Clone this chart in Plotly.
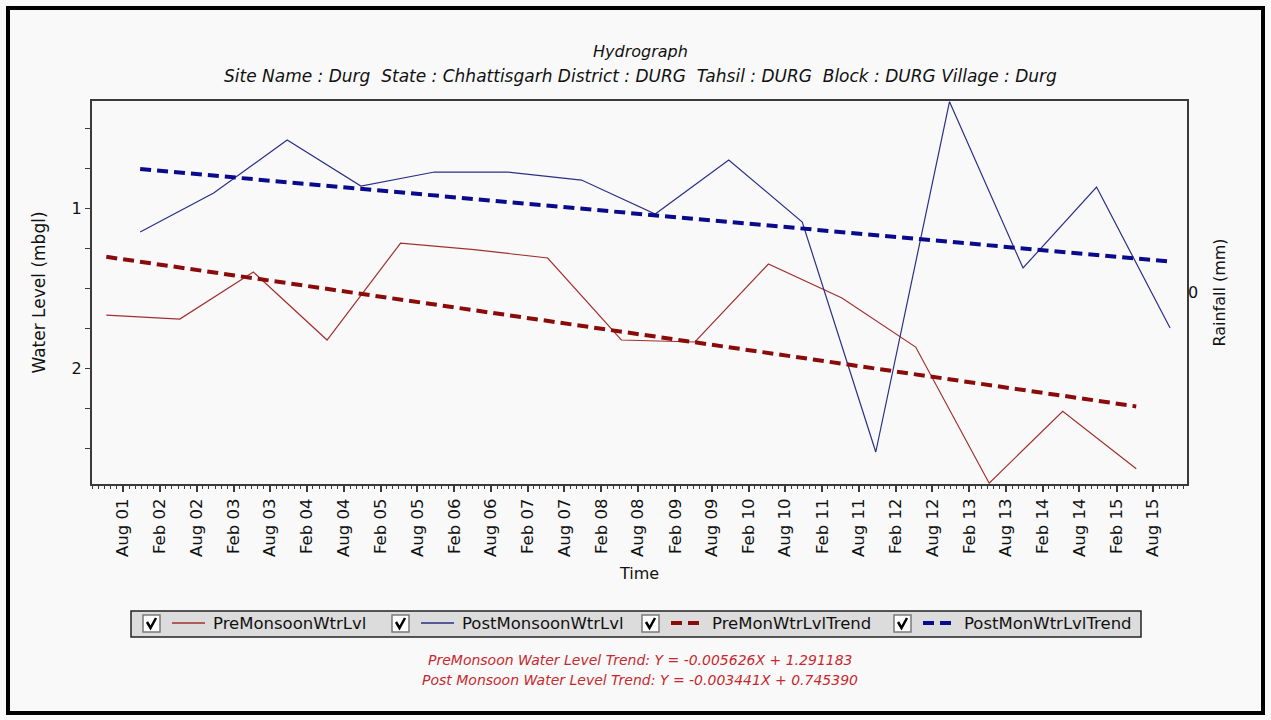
import plotly.graph_objects as go

# ---------------- data ----------------
pre_dates = ["2001-05-10", "2002-05-10", "2003-05-10", "2004-05-10", "2005-05-10",
             "2006-05-10", "2007-05-10", "2008-05-10", "2009-05-10", "2010-05-10",
             "2011-05-10", "2012-05-10", "2013-05-10", "2014-05-10", "2015-05-10"]
pre_level = [1.669, 1.694, 1.40, 1.825, 1.219, 1.26, 1.3125, 1.825, 1.8375, 1.35,
             1.5625, 1.869, 2.72, 2.27, 2.63]

post_dates = ["2001-10-25", "2002-10-25", "2003-10-25", "2004-10-25", "2005-10-25",
              "2006-10-25", "2007-10-25", "2008-10-25", "2009-10-25", "2010-10-25",
              "2011-10-25", "2012-10-25", "2013-10-25", "2014-10-25", "2015-10-25"]
post_level = [1.15, 0.906, 0.575, 0.8625, 0.775, 0.775, 0.825, 1.0375, 0.70, 1.0875,
              2.525, 0.335, 1.375, 0.869, 1.75]

pre_trend_dates = ["2001-05-10", "2015-05-10"]
pre_trend_level = [1.305, 2.24]
post_trend_dates = ["2001-10-25", "2015-10-25"]
post_trend_level = [0.756, 1.335]

series_names = ["PreMonsoonWtrLvl", "PostMonsoonWtrLvl", "PreMonWtrLvlTrend", "PostMonWtrLvlTrend"]
title_text = "Hydrograph"
site_text = ("Site Name : Durg\u00a0 State : Chhattisgarh District : DURG\u00a0 Tahsil : DURG"
             "\u00a0 Block : DURG Village : Durg")
eq_texts = ["PreMonsoon Water Level Trend: Y = -0.005626X + 1.291183",
            "Post Monsoon Water Level Trend: Y = -0.003441X + 0.745390"]

# ---------------- styles ----------------
C_PRE = "#a0302f"
C_POST = "#2a2f86"
C_PRE_T = "#8b0a0a"
C_POST_T = "#0a0a8c"
BG = "#f9f9f9"
AX = "#3a3a3a"
FONT = "DejaVu Sans"
TXT = "#111"

W_FIG, H_FIG = 1271, 720
L, R, T, B = 92, 1187, 101, 484
PW, PH = R - L, B - T


def px(x):
    return (x - L) / PW


def py(y):
    return (B - y) / PH


fig = go.Figure()
fig.add_trace(go.Scatter(x=pre_dates, y=pre_level, mode="lines", name=series_names[0],
                         line=dict(color=C_PRE, width=1.2), showlegend=False))
fig.add_trace(go.Scatter(x=post_dates, y=post_level, mode="lines", name=series_names[1],
                         line=dict(color=C_POST, width=1.2), showlegend=False))
fig.add_trace(go.Scatter(x=pre_trend_dates, y=pre_trend_level, mode="lines", name=series_names[2],
                         line=dict(color=C_PRE_T, width=4, dash="11px,6px"), showlegend=False))
fig.add_trace(go.Scatter(x=post_trend_dates, y=post_trend_level, mode="lines", name=series_names[3],
                         line=dict(color=C_POST_T, width=4, dash="11px,6px"), showlegend=False))
# invisible trace to activate the right (rainfall) axis
fig.add_trace(go.Scatter(x=[pre_dates[0]], y=[0], yaxis="y2", mode="markers",
                         marker=dict(opacity=0), showlegend=False, hoverinfo="skip"))

shapes = []
annotations = []

# outer frame
shapes.append(dict(type="rect", xref="paper", yref="paper",
                   x0=px(8), x1=px(1263), y0=py(8), y1=py(713),
                   line=dict(color="black", width=4), fillcolor="rgba(0,0,0,0)", layer="below"))

# titles
annotations.append(dict(text=title_text, xref="paper", yref="paper", x=px(640), y=py(52),
                        showarrow=False, xanchor="center", yanchor="middle",
                        font=dict(family=FONT, size=16, color=TXT, style="italic")))
annotations.append(dict(text=site_text, xref="paper", yref="paper", x=px(640), y=py(76),
                        showarrow=False, xanchor="center", yanchor="middle",
                        font=dict(family=FONT, size=17, color=TXT, style="italic")))

# legend box (manual, drawn like the reference with checkboxes)
shapes.append(dict(type="rect", xref="paper", yref="paper",
                   x0=px(131), x1=px(1141), y0=py(611), y1=py(637),
                   line=dict(color="#222", width=1.5), fillcolor="#dcdcdc"))
item_x = [143, 392, 642, 894]
sample_styles = [dict(color=C_PRE, width=1.5), dict(color=C_POST, width=1.5),
                 dict(color=C_PRE_T, width=4, dash="11px,6px"),
                 dict(color=C_POST_T, width=4, dash="11px,6px")]
for i, x0 in enumerate(item_x):
    # checkbox
    shapes.append(dict(type="rect", xref="paper", yref="paper",
                       x0=px(x0), x1=px(x0 + 17), y0=py(615), y1=py(632),
                       line=dict(color="#7a7a7a", width=1.5), fillcolor="white"))
    # check mark
    shapes.append(dict(type="path", xref="paper", yref="paper",
                       path=f"M {px(x0 + 4)} {py(622)} L {px(x0 + 7.5)} {py(628)} L {px(x0 + 13)} {py(618)}",
                       line=dict(color="black", width=2.5)))
    # line sample
    shapes.append(dict(type="line", xref="paper", yref="paper",
                       x0=px(x0 + 29), x1=px(x0 + 62), y0=py(623), y1=py(623),
                       line=sample_styles[i]))
    annotations.append(dict(text=series_names[i], xref="paper", yref="paper",
                            x=px(x0 + 68), y=py(623), showarrow=False,
                            xanchor="left", yanchor="middle",
                            font=dict(family=FONT, size=16.5, color=TXT)))

# trend equations
for j, t in enumerate(eq_texts):
    annotations.append(dict(text=t, xref="paper", yref="paper", x=px(640), y=py(660 + 20 * j),
                            showarrow=False, xanchor="center", yanchor="middle",
                            font=dict(family=FONT, size=14, color="#c8282d", style="italic")))

fig.update_layout(
    width=W_FIG, height=H_FIG,
    margin=dict(l=L, r=W_FIG - R, t=T, b=H_FIG - B, pad=0),
    paper_bgcolor=BG, plot_bgcolor=BG,
    font=dict(family=FONT, size=15, color=TXT),
    showlegend=False,
    shapes=shapes, annotations=annotations,
    xaxis=dict(
        type="date", range=["2001-02-28", "2016-01-17"],
        tick0="2001-08-01", dtick="M6", tickformat="%b %y", tickangle=-90,
        ticks="outside", ticklen=6, tickcolor=AX, tickwidth=1.5,
        minor=dict(dtick="M1", ticks="outside", ticklen=3, tickcolor=AX, tickwidth=1),
        showline=True, linecolor=AX, linewidth=2, mirror=True,
        showgrid=False, zeroline=False,
        tickfont=dict(family=FONT, size=16.5, color=TXT),
        title=dict(text="Time", font=dict(family=FONT, size=16, color=TXT), standoff=12),
    ),
    yaxis=dict(
        range=[2.725, 0.331],
        tickvals=[1, 2], ticktext=["1", "2"],
        ticks="outside", ticklen=5, tickcolor=AX, tickwidth=1,
        minor=dict(dtick=0.25, tick0=0, ticks="outside", ticklen=5, tickcolor=AX, tickwidth=1),
        showline=True, linecolor=AX, linewidth=2, mirror=True,
        showgrid=False, zeroline=False,
        tickfont=dict(family=FONT, size=16, color=TXT),
        title=dict(text="Water Level (mbgl)", font=dict(family=FONT, size=17, color=TXT), standoff=22),
    ),
    yaxis2=dict(
        overlaying="y", side="right", range=[-1, 1],
        tickvals=[0], ticktext=["0"], ticks="", showline=False,
        showgrid=False, zeroline=False,
        tickfont=dict(family=FONT, size=16, color=TXT),
        title=dict(text="Rainfall (mm)", font=dict(family=FONT, size=16, color=TXT), standoff=16),
    ),
)

fig.write_html("out.html", config={"displayModeBar": False},
               post_script="document.body.style.margin='0';")
